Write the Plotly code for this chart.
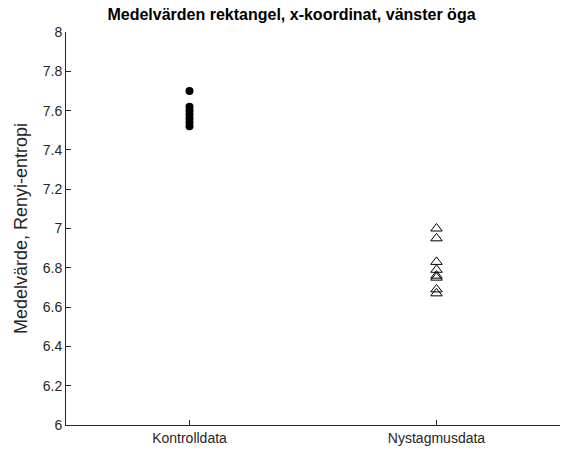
import plotly.graph_objects as go

# Group labels on the x axis
categories = ["Kontrolldata", "Nystagmusdata"]

# Mean Renyi entropy per subject, x-coordinate, left eye
kontroll_values = [7.70, 7.62, 7.60, 7.58, 7.56, 7.54, 7.52]
nystagmus_values = [7.00, 6.95, 6.83, 6.79, 6.76, 6.75, 6.69, 6.67]

y_ticks = [6, 6.2, 6.4, 6.6, 6.8, 7, 7.2, 7.4, 7.6, 7.8, 8]
y_tick_labels = ["6", "6.2", "6.4", "6.6", "6.8", "7", "7.2", "7.4", "7.6", "7.8", "8"]

FONT = "Liberation Sans, Arial, sans-serif"

fig = go.Figure()
fig.add_trace(go.Scatter(
    x=[1] * len(kontroll_values), y=kontroll_values, mode="markers",
    marker=dict(symbol="circle", size=8, color="black"),
    showlegend=False,
))
fig.add_trace(go.Scatter(
    x=[2] * len(nystagmus_values), y=nystagmus_values, mode="markers",
    marker=dict(symbol="triangle-up-open", size=10, color="black",
                line=dict(width=1, color="black")),
    showlegend=False,
))

axis_font = dict(family=FONT, size=14, color="#262626")

fig.update_layout(
    width=563, height=450,
    margin=dict(l=66, r=3, t=32, b=25),
    paper_bgcolor="white", plot_bgcolor="white",
    title=dict(text="<b>Medelvärden rektangel, x-koordinat, vänster öga</b>",
               x=291.5 / 563, xanchor="center", y=1 - 14 / 450, yanchor="middle",
               font=dict(family=FONT, size=16, color="black")),
    xaxis=dict(range=[0.5, 2.5], tickvals=[1, 2], ticktext=categories,
               showline=True, linecolor="#262626", linewidth=1,
               ticks="inside", ticklen=5, tickcolor="#262626",
               showgrid=False, zeroline=False, tickfont=axis_font),
    yaxis=dict(range=[6, 8], tickvals=y_ticks, ticktext=y_tick_labels,
               showline=True, linecolor="#262626", linewidth=1,
               ticks="inside", ticklen=5, tickcolor="#262626",
               showgrid=False, zeroline=False, tickfont=axis_font,
               title=dict(text="Medelvärde, Renyi-entropi", standoff=10,
                          font=dict(family=FONT, size=18, color="#262626"))),
)

fig.write_html("out.html")
